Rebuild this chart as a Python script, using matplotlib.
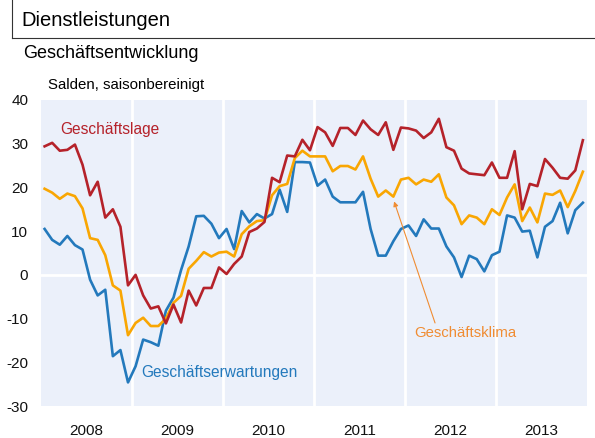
import numpy as np
import matplotlib
matplotlib.use("Agg")
import matplotlib.pyplot as plt

plt.rcParams['font.family'] = ['Liberation Sans', 'DejaVu Sans']

# monthly values Jan 2008 - Dec 2013
lage = [29.4, 30.2, 28.4, 28.6, 29.8, 25.2, 18.2, 21.3, 13.1, 15.0, 11.0, -2.4,
        0.0, -4.7, -7.7, -7.2, -11.1, -6.8, -10.9, -3.6, -7.0, -3.0, -3.0, 1.7,
        0.2, 2.5, 4.2, 9.8, 10.6, 12.1, 22.2, 21.2, 27.3, 27.1, 30.9, 28.5,
        33.8, 32.6, 29.5, 33.6, 33.6, 32.0, 35.3, 33.3, 32.0, 34.9, 28.6, 33.7,
        33.5, 33.0, 31.3, 32.6, 35.7, 29.2, 28.4, 24.3, 23.2, 23.0, 22.8, 25.7,
        22.2, 22.2, 28.3, 15.0, 20.8, 20.3, 26.5, 24.5, 22.2, 22.0, 23.9, 30.8]
klima = [19.7, 18.8, 17.4, 18.6, 18.0, 15.2, 8.4, 8.0, 4.5, -2.4, -3.6, -13.8,
         -11.0, -9.8, -11.7, -11.7, -10.0, -6.4, -4.8, 1.4, 3.2, 5.2, 4.2, 5.1,
         5.3, 4.2, 9.3, 11.1, 12.3, 12.5, 18.2, 20.3, 20.8, 26.7, 28.4, 27.1,
         27.1, 27.1, 23.7, 24.9, 24.9, 24.1, 27.1, 22.0, 17.9, 19.3, 17.9, 21.8,
         22.2, 20.7, 21.8, 21.3, 23.0, 17.7, 15.9, 11.6, 13.6, 13.1, 11.6, 15.0,
         13.7, 17.7, 20.7, 12.3, 15.4, 12.0, 18.6, 18.3, 19.3, 15.5, 19.2, 23.6]
erwartungen = [10.5, 8.0, 6.9, 8.9, 6.8, 5.8, -1.1, -4.7, -3.4, -18.6, -17.2, -24.6,
               -20.9, -14.8, -15.4, -16.2, -8.2, -5.2, 1.1, 6.5, 13.4, 13.5, 11.7, 8.4,
               10.5, 5.9, 14.6, 12.0, 13.9, 12.9, 13.9, 19.5, 14.4, 25.8, 25.8, 25.7,
               20.4, 21.8, 17.9, 16.6, 16.6, 16.6, 19.0, 10.5, 4.4, 4.4, 7.7, 10.5,
               11.3, 8.9, 12.7, 10.6, 10.6, 6.5, 4.0, -0.5, 4.4, 3.6, 0.8, 4.5,
               5.3, 13.6, 13.1, 9.9, 10.1, 4.0, 11.0, 12.3, 16.5, 9.5, 14.8, 16.5]
years = ['2008', '2009', '2010', '2011', '2012', '2013']
yticks = [40, 30, 20, 10, 0, -10, -20, -30]

c_lage = '#B5222A'
c_klima = '#F9A602'
c_erw = '#2379BC'
c_klima_txt = '#F08C32'

x = np.arange(len(lage))

fig = plt.figure(figsize=(5.95, 4.38), dpi=100)
ax = fig.add_axes([0.0686, 0.073, 0.9174, 0.6987])
ax.set_facecolor('#EBF0FA')

# white year separators and zero line
for k in range(1, len(years)):
    ax.axvline(12 * k - 0.5, color='white', lw=2, zorder=1)
ax.axhline(0, color='white', lw=2, zorder=1)

ax.plot(x, erwartungen, color=c_erw, lw=1.9, zorder=3)
ax.plot(x, klima, color=c_klima, lw=1.9, zorder=3)
ax.plot(x, lage, color=c_lage, lw=1.9, zorder=3)

ax.set_xlim(-0.5, 71.5)
ax.set_ylim(-30, 40)
ax.set_yticks(yticks)
ax.set_yticklabels([str(v) for v in yticks])
ax.set_xticks([12 * k + 5.5 for k in range(len(years))])
ax.set_xticklabels(years)
ax.tick_params(length=0, labelsize=11, colors='#111111')
ax.tick_params(axis='y', pad=9)
ax.tick_params(axis='x', pad=13)
for s in ax.spines.values():
    s.set_visible(False)

ax.text(2.1, 33.2, 'Geschäftslage', color=c_lage, fontsize=11.2, va='center')
ax.text(12.8, -22.4, 'Geschäftserwartungen', color=c_erw, fontsize=11.2, va='center')
ax.text(48.8, -13.3, 'Geschäftsklima', color=c_klima_txt, fontsize=10.7, va='center')
ax.annotate('', xy=(46.1, 16.8), xytext=(51.5, -11.0),
            arrowprops=dict(arrowstyle='-|>', color=c_klima_txt, lw=0.8,
                            mutation_scale=7, shrinkA=0, shrinkB=0))

# header
fig.text(21 / 595, 1 - 20 / 438, 'Dienstleistungen', fontsize=14.5, va='center')
fig.add_artist(plt.Line2D([12 / 595, 12 / 595], [1, 1 - 38 / 438],
                          color='#333333', lw=0.8))
fig.add_artist(plt.Line2D([12 / 595, 1], [1 - 38 / 438, 1 - 38 / 438],
                          color='#333333', lw=0.8))
fig.text(23 / 595, 1 - 53 / 438, 'Geschäftsentwicklung', fontsize=13, va='center')
fig.text(48 / 595, 1 - 85 / 438, 'Salden, saisonbereinigt', fontsize=10.8, va='center')

fig.savefig('out.png', dpi=100)
